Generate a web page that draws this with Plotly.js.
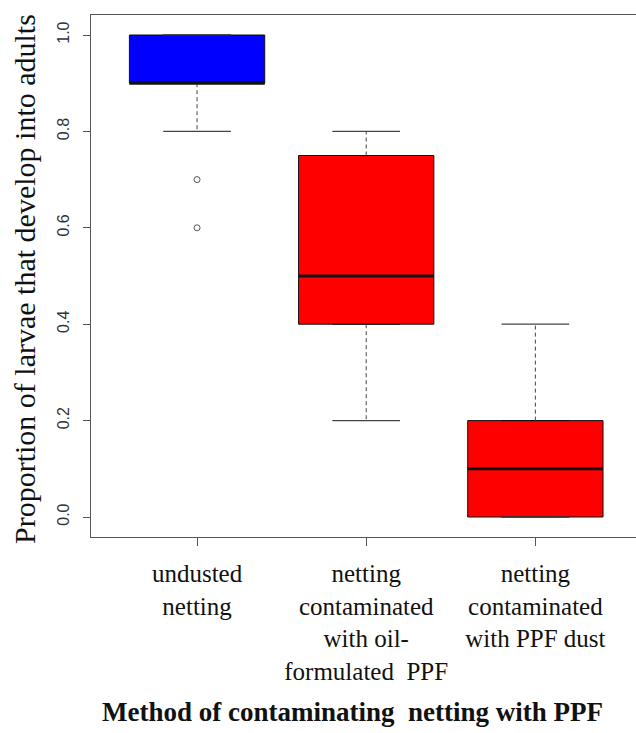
<!DOCTYPE html>
<html>
<head>
<meta charset="utf-8">
<script src="https://cdn.plot.ly/plotly-3.0.1.min.js"></script>
<style>html,body{margin:0;padding:0;background:#fff;}#chart{width:636px;height:733px;}</style>
</head>
<body>
<div id="chart"></div>
<script>
// ---- data ----
const categories = ["undusted<br>netting", "netting<br>contaminated<br>with oil-<br>formulated  PPF", "netting<br>contaminated<br>with PPF dust"];
const positions = [1, 2, 3];
const lowerWhisker = [0.8, 0.2, 0.0];
const q1 = [0.9, 0.4, 0.0];
const medians = [0.9, 0.5, 0.1];
const q3 = [1.0, 0.75, 0.2];
const upperWhisker = [1.0, 0.8, 0.4];
const outlierPos = [1, 1];
const outlierVals = [0.7, 0.6];
const boxColors = ["#0000FF", "#FF0000", "#FF0000"];
const yTicks = [0, 0.2, 0.4, 0.6, 0.8, 1.0];

const boxWidth = 0.8;
const capHalf = boxWidth / 4;
const SERIF = "Liberation Serif";

const traces = [];
positions.forEach((p, i) => {
  traces.push({
    type: "box", x: [p], q1: [q1[i]], median: [medians[i]], q3: [q3[i]],
    lowerfence: [q1[i]], upperfence: [q3[i]],
    width: boxWidth, fillcolor: boxColors[i],
    line: {color: "#111", width: 1}, boxpoints: false, hoverinfo: "skip", showlegend: false
  });
});
positions.forEach((p, i) => {
  traces.push({type: "scatter", mode: "lines", x: [p, p], y: [q3[i], upperWhisker[i]],
    line: {color: "#444", width: 1, dash: "4px,3px"}, showlegend: false, hoverinfo: "skip"});
  traces.push({type: "scatter", mode: "lines", x: [p, p], y: [q1[i], lowerWhisker[i]],
    line: {color: "#444", width: 1, dash: "4px,3px"}, showlegend: false, hoverinfo: "skip"});
  traces.push({type: "scatter", mode: "lines", x: [p - capHalf, p + capHalf], y: [upperWhisker[i], upperWhisker[i]],
    line: {color: "#444", width: 1.2}, showlegend: false, hoverinfo: "skip"});
  traces.push({type: "scatter", mode: "lines", x: [p - capHalf, p + capHalf], y: [lowerWhisker[i], lowerWhisker[i]],
    line: {color: "#444", width: 1.2}, showlegend: false, hoverinfo: "skip"});
  traces.push({type: "scatter", mode: "lines", x: [p - boxWidth / 2, p + boxWidth / 2], y: [medians[i], medians[i]],
    line: {color: "#111", width: 3}, showlegend: false, hoverinfo: "skip"});
});
traces.push({type: "scatter", mode: "markers", x: outlierPos, y: outlierVals,
  marker: {symbol: "circle-open", size: 6, color: "#555", line: {width: 1}}, showlegend: false, hoverinfo: "skip"});

const layout = {
  width: 636, height: 733,
  font: {family: SERIF, color: "#111"},
  margin: {l: 91, r: 0, t: 15, b: 196},
  paper_bgcolor: "#fff", plot_bgcolor: "#fff",
  xaxis: {
    range: [0.373, 3.595], tickvals: positions, ticktext: categories,
    showgrid: false, zeroline: false, showline: true, mirror: true, linecolor: "#555", linewidth: 1.3,
    ticks: "outside", ticklen: 8, tickcolor: "#555", tickwidth: 1,
    tickfont: {family: SERIF, size: 25, color: "#111"}, ticklabelstandoff: 6
  },
  yaxis: {
    range: [-0.0415, 1.0415], tickvals: yTicks, tickformat: ".1f", tickangle: -90,
    showgrid: false, zeroline: false, showline: true, linecolor: "#555", linewidth: 1.3,
    ticks: "outside", ticklen: 7, tickcolor: "#555", tickwidth: 1,
    tickfont: {family: "Liberation Sans", size: 16, color: "#333"}, ticklabelstandoff: 7
  },
  annotations: [
    {text: "Proportion of larvae that develop into adults", xref: "paper", yref: "paper", x: 0, y: 0.5,
     xanchor: "center", yanchor: "middle", xshift: -67, yshift: -3, textangle: -90, showarrow: false,
     font: {family: SERIF, size: 30, color: "#111"}},
    {text: "<b>Method of contaminating  netting with PPF</b>", xref: "paper", yref: "paper", x: 0.479, y: 0,
     xanchor: "center", yanchor: "middle", yshift: -175, showarrow: false,
     font: {family: SERIF, size: 27, color: "#111"}}
  ]
};

Plotly.newPlot("chart", traces, layout, {displayModeBar: false});
</script>
</body>
</html>
